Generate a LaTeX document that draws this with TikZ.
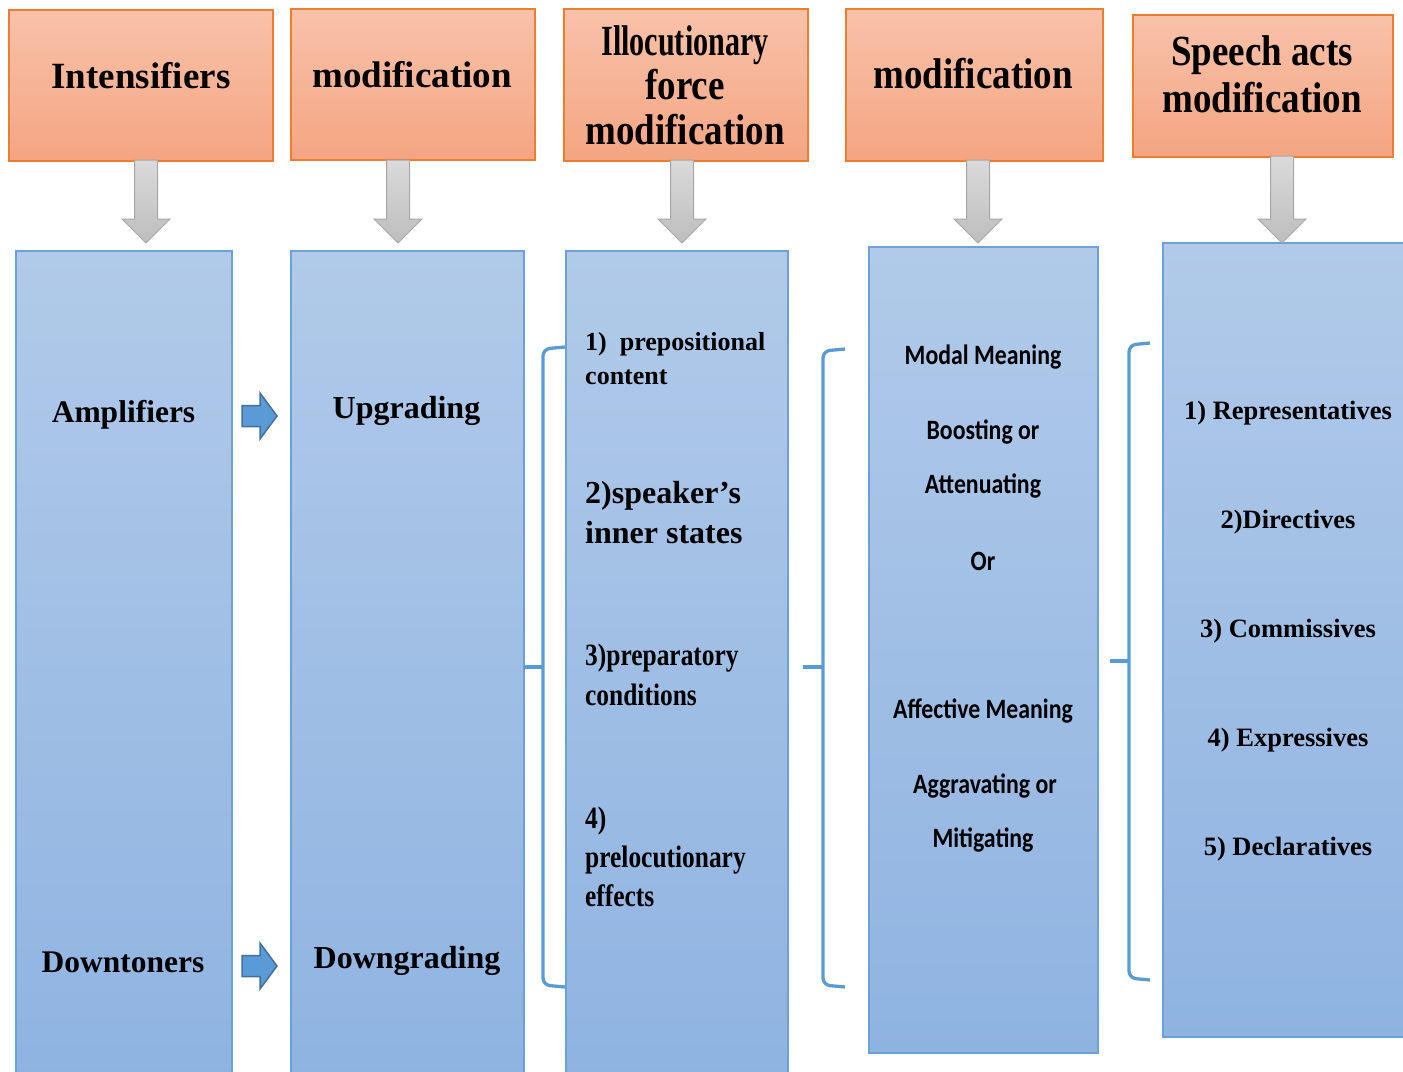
\documentclass[tikz,border=0pt]{standalone}
\usepackage{fontspec}
\setmainfont{Liberation Serif}
\newfontfamily\cserif[FakeStretch=0.86]{Liberation Serif}
\newfontfamily\cserifn[FakeStretch=0.70]{Liberation Serif}
\newfontfamily\cserifb[FakeStretch=0.82]{Liberation Serif}
\newfontfamily\calib[FakeStretch=0.85]{Carlito}
\usetikzlibrary{calc}
\definecolor{orTop}{RGB}{248,194,170}
\definecolor{orBot}{RGB}{244,165,130}
\definecolor{orLine}{RGB}{237,125,49}
\definecolor{blTop}{RGB}{177,202,233}
\definecolor{blBot}{RGB}{143,179,225}
\definecolor{blLine}{RGB}{110,160,216}
\definecolor{brLine}{RGB}{91,155,213}
\definecolor{arFill}{RGB}{91,155,213}
\definecolor{arLine}{RGB}{65,113,156}
\definecolor{gTop}{RGB}{218,218,218}
\definecolor{gBot}{RGB}{190,190,190}
\definecolor{gLine}{RGB}{166,166,166}
\tikzset{
  topbox/.style={draw=orLine, line width=1.5pt, top color=orTop, bottom color=orBot, inner sep=0pt, anchor=north west},
  bluebox/.style={draw=blLine, line width=1.5pt, top color=blTop, bottom color=blBot, inner sep=0pt, anchor=north west},
  garrow/.style={draw=gLine, line width=1pt, top color=gTop, bottom color=gBot},
  barrow/.style={draw=arLine, line width=1.5pt, fill=arFill},
  brline/.style={draw=brLine, line width=3.3pt},
  lbl/.style={inner sep=0pt, anchor=base},
  lblw/.style={inner sep=0pt, anchor=base west},
  hA/.style={font=\bfseries\fontsize{37}{40}\selectfont},
  hB/.style={font=\cserif\bfseries\fontsize{43}{46}\selectfont},
  bA/.style={font=\bfseries\fontsize{31.5}{34}\selectfont},
  cS/.style={font=\bfseries\fontsize{26}{30}\selectfont},
  cM/.style={font=\bfseries\fontsize{32}{36}\selectfont},
  cC/.style={font=\cserifb\bfseries\fontsize{31}{35}\selectfont},
  dC/.style={font=\calib\bfseries\fontsize{28}{32}\selectfont},
  eS/.style={font=\bfseries\fontsize{26.5}{30}\selectfont}
}
\newcommand\GArrow[2]{\draw[garrow] ($(#1)+(-11.5,0)$) -- ($(#1)+(11.5,0)$) -- ($(#2)+(11.5,-24)$) -- ($(#2)+(24,-24)$) -- (#2) -- ($(#2)+(-24,-24)$) -- ($(#2)+(-11.5,-24)$) -- cycle;}
\newcommand\BArrow[2]{\draw[barrow] ($(#1)+(0,-10.5)$) -- ($(#2)+(-17,-10.5)$) -- ($(#2)+(-17,-23)$) -- (#2) -- ($(#2)+(-17,23)$) -- ($(#2)+(-17,10.5)$) -- ($(#1)+(0,10.5)$) -- cycle;}
\begin{document}
\begin{tikzpicture}[x=1pt,y=-1pt]
\useasboundingbox (0,0) rectangle (1403,1071);
% top boxes
\node[topbox, minimum width=264, minimum height=151] (t1) at (8,9) {};
\node[topbox, minimum width=244, minimum height=151] (t2) at (290,8) {};
\node[topbox, minimum width=244, minimum height=152] (t3) at (563,8) {};
\node[topbox, minimum width=257, minimum height=152] (t4) at (845,8) {};
\node[topbox, minimum width=260, minimum height=142] (t5) at (1132,14) {};
% header texts
\node[lbl, hA] (h1) at (141,88) {Intensifiers};
\node[lbl, hA] (h2) at (412,87) {modification};
\node[lbl, hB, font=\cserifn\bfseries\fontsize{43}{46}\selectfont] (h3a) at (685,55.5) {Illocutionary};
\node[lbl, hB] (h3b) at (685,99.5) {force};
\node[lbl, hB] (h3c) at (685,144) {modification};
\node[lbl, hB] (h4) at (973,88) {modification};
\node[lbl, hB] (h5a) at (1262,65) {Speech acts};
\node[lbl, hB] (h5b) at (1262,112) {modification};
% blue boxes
\node[bluebox, minimum width=216, minimum height=830] (b1) at (15,250) {};
\node[bluebox, minimum width=233, minimum height=830] (b2) at (290,250) {};
\node[bluebox, minimum width=222, minimum height=830] (b3) at (565,250) {};
\node[bluebox, minimum width=229, minimum height=806] (b4) at (868,246) {};
\node[bluebox, minimum width=250, minimum height=794] (b5) at (1162,242) {};
% gray arrows
\coordinate (g1s) at (146,160); \coordinate (g1e) at (146,243);
\coordinate (g2s) at (398,160); \coordinate (g2e) at (398,243);
\coordinate (g3s) at (682,160); \coordinate (g3e) at (682,243);
\coordinate (g4s) at (978,160); \coordinate (g4e) at (978,243);
\coordinate (g5s) at (1282,156); \coordinate (g5e) at (1282,243);
\GArrow{g1s}{g1e}
\GArrow{g2s}{g2e}
\GArrow{g3s}{g3e}
\GArrow{g4s}{g4e}
\GArrow{g5s}{g5e}
% blue arrows
\coordinate (p1s) at (242,416); \coordinate (p1e) at (277,416);
\coordinate (p2s) at (242,966); \coordinate (p2e) at (277,966);
\BArrow{p1s}{p1e}
\BArrow{p2s}{p2e}
% braces
\draw[brline, rounded corners=7pt] (565,347) -- (543,349) -- (543,985) -- (565,987);
\draw[brline] (524,667) -- (543,667);
\draw[brline, rounded corners=7pt] (845,349) -- (823,351) -- (823,985) -- (845,987);
\draw[brline] (803,667) -- (823,667);
\draw[brline, rounded corners=7pt] (1150,343) -- (1129,345) -- (1129,978) -- (1150,980);
\draw[brline] (1110,661) -- (1129,661);
% column 1
\node[lbl, bA] (amp) at (123.5,422.5) {Amplifiers};
\node[lbl, bA] (dwn) at (123,972.5) {Downtoners};
% column 2
\node[lbl, bA, font=\bfseries\fontsize{32}{36}\selectfont] (upg) at (406.5,418) {Upgrading};
\node[lbl, bA, font=\bfseries\fontsize{32}{36}\selectfont] (dng) at (407,968.5) {Downgrading};
% column 3
\node[lblw, cS] (c1a) at (585,350) {1)\ \ prepositional};
\node[lblw, cS] (c1b) at (585,384.5) {content};
\node[lblw, cM] (c2a) at (585,503) {2)speaker’s};
\node[lblw, cM] (c2b) at (585,543) {inner states};
\node[lblw, cC] (c3a) at (585,665) {3)preparatory};
\node[lblw, cC] (c3b) at (585,705) {conditions};
\node[lblw, cC] (c4a) at (585,828) {4)};
\node[lblw, cC] (c4b) at (585,867) {prelocutionary};
\node[lblw, cC] (c4c) at (585,906) {effects};
% column 4
\node[lbl, dC] (d1) at (983,364) {Modal Meaning};
\node[lbl, dC] (d2) at (983,439) {Boosting or};
\node[lbl, dC] (d3) at (983,493) {Attenuating};
\node[lbl, dC] (d4) at (983,570) {Or};
\node[lbl, dC] (d5) at (983,718) {Affective Meaning};
\node[lbl, dC] (d6) at (985,793) {Aggravating or};
\node[lbl, dC] (d7) at (983,847) {Mitigating};
% column 5
\node[lbl, eS] (e1) at (1288,419) {1) Representatives};
\node[lbl, eS] (e2) at (1288,528) {2)Directives};
\node[lbl, eS] (e3) at (1288,637) {3) Commissives};
\node[lbl, eS] (e4) at (1288,746) {4) Expressives};
\node[lbl, eS] (e5) at (1288,855) {5) Declaratives};
\end{tikzpicture}
\end{document}
